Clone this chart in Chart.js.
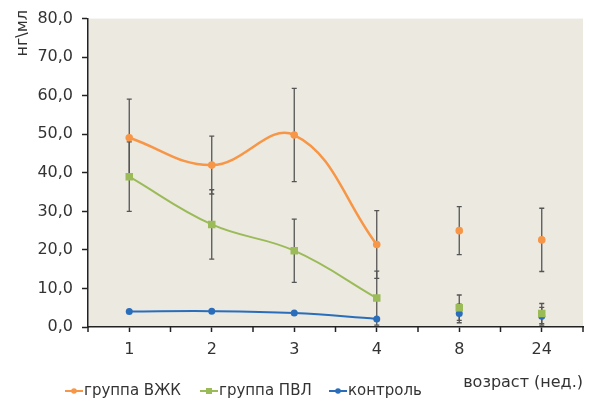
<!DOCTYPE html>
<html>
<head>
<meta charset="utf-8">
<script src="https://cdn.jsdelivr.net/npm/chart.js@4"></script>
<style>
  html, body { margin: 0; padding: 0; background: #fff; }
  #wrap { width: 589px; height: 403px; }
</style>
</head>
<body>
<div id="wrap"><canvas id="chart" width="589" height="403"></canvas></div>
<script>
// возраст в неделях
const weeks = ['1', '2', '3', '4', '8', '24'];
// только первые четыре точки соединены линией
const linkedPoints = 4;

const vzhk = [49.1, 42.0, 49.8, 21.4, 25.0, 22.6];
const vzhkErr = [10.0, 7.5, 12.1, 8.8, 6.2, 8.2];
const pvl = [39.0, 26.6, 19.8, 7.5, 5.0, 3.5];
const pvlErr = [9.0, 9.0, 8.2, 7.0, 3.3, 2.6];
const control = [4.0, 4.1, 3.6, 2.1, 3.5, 2.8];
const controlErr = [0, 0, 0, 0, 2.4, 2.3];

const yTicks = [0, 10, 20, 30, 40, 50, 60, 70, 80];

const FONT = 'DejaVu Sans';
const TEXT = '#333';
const AXIS = '#222';

// начало каждого элемента легенды
const legendX = [65, 200, 329];

const series = [
  { label: 'группа ВЖК', data: vzhk, err: vzhkErr, color: '#F79646', style: 'circle', radius: 3.8, width: 2.5 },
  { label: 'группа ПВЛ', data: pvl, err: pvlErr, color: '#9BBB59', style: 'rect', radius: 5.3, width: 2 },
  { label: 'контроль', data: control, err: controlErr, color: '#2A6EBB', style: 'circle', radius: 3.5, width: 2 }
];

const datasets = [];
series.forEach(s => {
  const base = {
    borderColor: s.color,
    backgroundColor: s.color,
    pointBackgroundColor: s.color,
    pointBorderColor: s.color,
    pointStyle: s.style,
    pointRadius: s.radius,
    pointBorderWidth: 0,
    errors: s.err
  };
  // линия по первым неделям
  datasets.push(Object.assign({}, base, {
    label: s.label,
    data: s.data.map((v, i) => i < linkedPoints ? v : null),
    borderWidth: s.width,
    tension: 0.4,
    spanGaps: false,
    inLegend: true
  }));
  // отдельные точки 8 и 24 нед.
  datasets.push(Object.assign({}, base, {
    label: s.label + ' (отд.)',
    data: s.data.map((v, i) => i >= linkedPoints ? v : null),
    showLine: false
  }));
});

const decor = {
  id: 'decor',
  beforeDraw(chart) {
    const { ctx, chartArea: a } = chart;
    ctx.save();
    ctx.fillStyle = '#ECE9E0';
    ctx.fillRect(a.left, a.top, a.right - a.left, a.bottom - a.top);
    ctx.restore();
  },
  beforeDatasetsDraw(chart) {
    const { ctx } = chart;
    const y = chart.scales.y;
    ctx.save();
    ctx.strokeStyle = '#555';
    ctx.lineWidth = 1.3;
    chart.data.datasets.forEach((ds, di) => {
      const meta = chart.getDatasetMeta(di);
      ds.data.forEach((v, i) => {
        const e = ds.errors[i];
        if (v === null || !e) return;
        const x = meta.data[i].x;
        const top = y.getPixelForValue(v + e);
        const bot = y.getPixelForValue(Math.max(0, v - e));
        ctx.beginPath();
        ctx.moveTo(x, top); ctx.lineTo(x, bot);
        ctx.moveTo(x - 2.5, top); ctx.lineTo(x + 2.5, top);
        ctx.moveTo(x - 2.5, bot); ctx.lineTo(x + 2.5, bot);
        ctx.stroke();
      });
    });
    ctx.restore();
  },
  afterDraw(chart) {
    const { ctx, chartArea: a } = chart;
    const x = chart.scales.x;
    ctx.save();
    // засечки на границах категорий
    ctx.strokeStyle = AXIS;
    ctx.lineWidth = 1.5;
    const step = x.getPixelForValue(1) - x.getPixelForValue(0);
    for (let i = 0; i <= weeks.length; i++) {
      const px = x.getPixelForValue(0) - step / 2 + i * step;
      ctx.beginPath();
      ctx.moveTo(px, a.bottom);
      ctx.lineTo(px, a.bottom + 5);
      ctx.stroke();
    }

    // подпись оси Y
    ctx.fillStyle = TEXT;
    ctx.font = '16px "' + FONT + '"';
    ctx.translate(23, 10);
    ctx.rotate(-Math.PI / 2);
    ctx.textAlign = 'right';
    ctx.textBaseline = 'middle';
    ctx.fillText('нг\\мл', 0, 0);
    ctx.setTransform(1, 0, 0, 1, 0, 0);

    // легенда
    ctx.font = '15px "' + FONT + '"';
    ctx.textAlign = 'left';
    ctx.textBaseline = 'middle';
    const ly = 391;
    chart.data.datasets.filter(ds => ds.inLegend).forEach((ds, k) => {
      const lx = legendX[k];
      ctx.strokeStyle = ds.borderColor;
      ctx.fillStyle = ds.borderColor;
      ctx.lineWidth = 2;
      ctx.beginPath();
      ctx.moveTo(lx, ly); ctx.lineTo(lx + 18, ly);
      ctx.stroke();
      if (ds.pointStyle === 'rect') {
        ctx.fillRect(lx + 6, ly - 3, 6, 6);
      } else {
        ctx.beginPath();
        ctx.arc(lx + 9, ly, 2.8, 0, Math.PI * 2);
        ctx.fill();
      }
      ctx.fillStyle = TEXT;
      ctx.fillText(ds.label, lx + 19, ly);
    });
    ctx.restore();
  }
};

new Chart(document.getElementById('chart'), {
  type: 'line',
  data: { labels: weeks, datasets: datasets },
  plugins: [decor],
  options: {
    responsive: false,
    animation: false,
    layout: { padding: { top: 17, right: 6, left: 0, bottom: 0 } },
    plugins: {
      legend: { display: false },
      tooltip: { enabled: false }
    },
    scales: {
      x: {
        offset: true,
        afterFit(scale) { scale.height = 76; },
        grid: { display: true, drawOnChartArea: false, offset: false, tickLength: 5, color: AXIS, tickWidth: 1.5 },
        border: { display: true, color: AXIS, width: 1.5 },
        ticks: { color: TEXT, padding: 8, font: { family: FONT, size: 16 } },
        title: {
          display: true,
          text: 'возраст (нед.)',
          align: 'end',
          color: TEXT,
          font: { family: FONT, size: 16 },
          padding: { top: 0, bottom: 11 }
        }
      },
      y: {
        min: 0,
        max: 80,
        afterFit(scale) { scale.width = 88; },
        afterBuildTicks(scale) { scale.ticks = yTicks.map(v => ({ value: v })); },
        grid: { display: true, drawOnChartArea: false, tickLength: 6, color: AXIS, tickWidth: 1.5 },
        border: { display: true, color: AXIS, width: 1.5 },
        ticks: {
          color: TEXT,
          padding: 9,
          font: { family: FONT, size: 16 },
          callback: v => v.toFixed(1).replace('.', ',')
        }
      }
    }
  }
});
</script>
</body>
</html>
